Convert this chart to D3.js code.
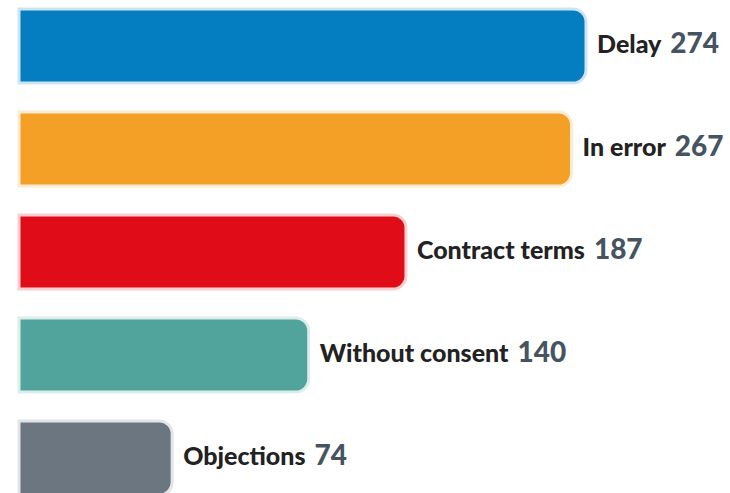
<!DOCTYPE html>
<html>
<head>
<meta charset="utf-8">
<script src="https://cdn.jsdelivr.net/npm/d3@7"></script>
<style>
  body { margin: 0; background: #fff; }
  svg { display: block; }
</style>
</head>
<body>
<script>
  // Data
  const categories = ['Delay', 'In error', 'Contract terms', 'Without consent', 'Objections'];
  const values = [274, 267, 187, 140, 74];
  const colors = ['#047dc1', '#f4a027', '#e00d19', '#50a49c', '#6c7680'];

  const width = 730;
  const height = 493;
  const margin = { top: 9, left: 19 };
  const step = 103;
  const gap = 29;
  const radius = 13;

  const svg = d3.select('body')
    .append('svg')
    .attr('width', width)
    .attr('height', height);

  const x = d3.scaleLinear()
    .domain([0, 274])
    .range([margin.left, 586]);

  const y = d3.scaleBand()
    .domain(categories)
    .range([margin.top, margin.top + step * categories.length - gap])
    .paddingInner(gap / step)
    .paddingOuter(0);

  // bar with square left corners and rounded right corners
  const barPath = (x0, x1, y0, h) => {
    const r = Math.min(radius, (x1 - x0) / 2);
    return `M${x0},${y0}H${x1 - r}A${r},${r} 0 0 1 ${x1},${y0 + r}` +
      `V${y0 + h - r}A${r},${r} 0 0 1 ${x1 - r},${y0 + h}H${x0}Z`;
  };

  const rows = svg.selectAll('g.row')
    .data(categories.map((c, i) => ({ name: c, value: values[i], color: colors[i] })))
    .enter()
    .append('g')
    .attr('class', 'row');

  rows.append('path')
    .attr('d', d => barPath(x(0), x(d.value), y(d.name), y.bandwidth()))
    .style('fill', d => d.color)
    .style('stroke', d => d3.interpolateRgb(d.color, '#ffffff')(0.8))
    .style('stroke-width', 3);

  const label = rows.append('text')
    .attr('x', d => x(d.value) + 11)
    .attr('y', d => y(d.name) + y.bandwidth() / 2 + 7)
    .style('font-family', 'Lato, sans-serif');

  label.append('tspan')
    .style('font-weight', 900)
    .style('font-size', '25px')
    .style('fill', '#222')
    .text(d => d.name);

  label.append('tspan')
    .attr('dx', 9)
    .style('font-weight', 900)
    .style('font-size', '28px')
    .style('fill', '#465361')
    .text(d => d.value);
</script>
</body>
</html>
